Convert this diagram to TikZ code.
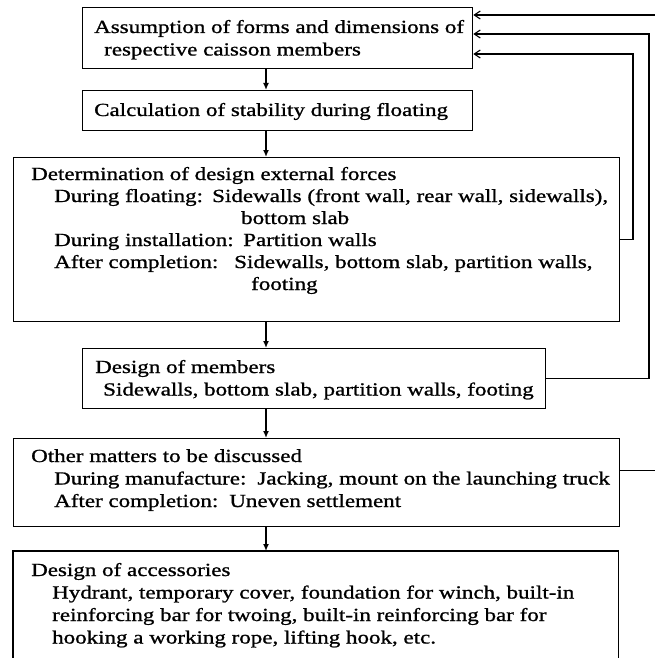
\documentclass[tikz,border=0pt]{standalone}
\usepackage{fontspec}
\newfontfamily\boxfont{Liberation Serif}[FakeStretch=1.243,FakeBold=1]
\usetikzlibrary{arrows.meta}
\newcommand{\lns}[1]{\begin{tabular}[t]{@{}l@{}}#1\end{tabular}}
\begin{document}
\begin{tikzpicture}[x=1pt,y=-1pt,
  boxframe/.style={draw, line width=1.3pt, rectangle, inner sep=0pt, anchor=north west},
  openframe/.style={rectangle, inner sep=0pt, anchor=north west},
  boxtext/.style={anchor=base west, inner sep=0pt, font=\boxfont\fontsize{18.5}{22.5}\selectfont},
  flow/.style={line width=1.6pt, -{Latex[length=7pt,width=6pt]}},
  back/.style={line width=1.1pt, -{Straight Barb[length=6pt,width=8pt]}},
  plain/.style={line width=0.9pt}]
\useasboundingbox (0,0) rectangle (655,658);
% boxes
\node[boxframe, minimum width=390pt, minimum height=61pt] (b1) at (82,7) {};
\node[boxframe, minimum width=390pt, minimum height=40pt] (b2) at (82,90) {};
\node[boxframe, minimum width=606pt, minimum height=164pt] (b3) at (13,157) {};
\node[boxframe, minimum width=463pt, minimum height=60pt] (b4) at (82,348) {};
\node[boxframe, minimum width=606pt, minimum height=88pt] (b5) at (13,438) {};
\node[openframe, minimum width=605pt, minimum height=107pt] (b6) at (13,551) {};
\draw[line width=1.3pt] (b6.south west) -- (b6.north west) -- (b6.north east) -- (b6.south east);
% texts
\node[boxtext] (t1) at (94,33) {\lns{Assumption of forms and dimensions of\\\hspace*{10pt}respective caisson members}};
\node[boxtext] (t2) at (94,116) {Calculation of stability during floating};
\node[boxtext, font=\boxfont\fontsize{18.5}{22}\selectfont] (t3) at (31,180) {\lns{Determination of design external forces\\
\hspace*{23pt}\makebox[158pt][l]{During floating:}Sidewalls (front wall, rear wall, sidewalls),\\
\hspace*{210pt}bottom slab\\
\hspace*{23pt}\makebox[189pt][l]{During installation:}Partition walls\\
\hspace*{23pt}\makebox[180pt][l]{After completion:}Sidewalls, bottom slab, partition walls,\\
\hspace*{220pt}footing}};
\node[boxtext] (t4) at (95,373) {\lns{Design of members\\\hspace*{8pt}Sidewalls, bottom slab, partition walls, footing}};
\node[boxtext] (t5) at (31,462) {\lns{Other matters to be discussed\\
\hspace*{23pt}During manufacture:\hspace{11pt}Jacking, mount on the launching truck\\
\hspace*{23pt}After completion:\hspace{11pt}Uneven settlement}};
\node[boxtext] (t6) at (31,576) {\lns{Design of accessories\\
\hspace*{21pt}Hydrant, temporary cover, foundation for winch, built-in\\
\hspace*{21pt}reinforcing bar for twoing, built-in reinforcing bar for\\
\hspace*{21pt}hooking a working rope, lifting hook, etc.}};
% main flow
\coordinate (ax) at (266,0);
\draw[flow] (b1.south -| ax) -- (b2.north -| ax);
\draw[flow] (b2.south -| ax) -- (b3.north -| ax);
\draw[flow] (b3.south -| ax) -- (b4.north -| ax);
\draw[flow] (b4.south -| ax) -- (b5.north -| ax);
\draw[flow] (b5.south -| ax) -- (b6.north -| ax);
% feedback lines
\coordinate (e1) at (655,15);
\coordinate (v2) at (649,34);
\coordinate (v3) at (633,54);
\coordinate (e4) at (655,470);
\draw[back] (e1) -- (e1 -| b1.east);
\draw[back] (b4.east) -| (v2) -- (v2 -| b1.east);
\draw[back] (b3.east) -| (v3) -- (v3 -| b1.east);
\draw[plain] (e4 -| b5.east) -- (e4);
\end{tikzpicture}
\end{document}
